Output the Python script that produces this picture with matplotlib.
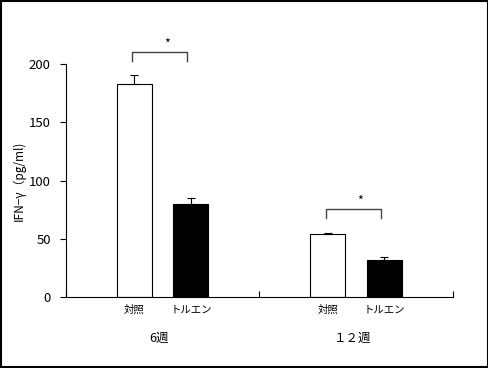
import matplotlib
matplotlib.use("Agg")
import matplotlib.pyplot as plt
from matplotlib.patches import Rectangle
import numpy as np

plt.rcParams['font.family'] = ['Noto Sans CJK JP', 'DejaVu Sans']

groups = ["6週", "１２週"]
bar_labels = ["対照", "トルエン"]
control_vals = [183, 54]
control_err = [7.7, 1.5]
toluene_vals = [80, 32]
toluene_err = [5.4, 3.0]
# significance brackets: (group index, bracket top, bracket foot)
sig_marks = [(0, 210, 203), (1, 76, 68)]

fig = plt.figure(figsize=(4.89, 3.68), dpi=100)
ax = fig.add_axes([0.135, 0.192, 0.791, 0.634])

x = np.arange(len(groups)) + 0.5
off = 0.146
w = 0.181

ax.bar(x - off, control_vals, width=w, color="white", edgecolor="black", linewidth=0.8)
ax.bar(x + off, toluene_vals, width=w, color="black", edgecolor="black", linewidth=0.8)
ax.errorbar(x - off, control_vals, yerr=[np.zeros(2), control_err], fmt="none",
            ecolor="black", elinewidth=0.8, capsize=3, capthick=0.8)
ax.errorbar(x + off, toluene_vals, yerr=[np.zeros(2), toluene_err], fmt="none",
            ecolor="black", elinewidth=0.8, capsize=3, capthick=0.8)

for gi, top, foot in sig_marks:
    xl = x[gi] - off - 0.011
    xr = x[gi] + off - 0.018
    ax.plot([xl, xl, xr, xr], [foot, top, top, foot], color="#444444", lw=1.0, clip_on=False)
    ax.text((xl + xr) / 2 + 0.035, top + 1, "*", ha="center", va="bottom", fontsize=9)

ax.set_xlim(0, 2)
ax.set_ylim(0, 200)
ax.set_yticks([0, 50, 100, 150, 200])
ax.tick_params(axis="y", direction="out", length=4, width=0.8, labelsize=9.5, pad=7)
ax.set_xticks([0, 1, 2])
ax.set_xticklabels([])
ax.tick_params(axis="x", direction="in", length=4, width=0.8)
for s in ["top", "right"]:
    ax.spines[s].set_visible(False)
ax.spines["left"].set_linewidth(0.8)
ax.spines["bottom"].set_linewidth(0.8)

for gi in range(len(groups)):
    ax.text(x[gi] - off, -6, bar_labels[0], ha="center", va="top", fontsize=7.5)
    ax.text(x[gi] + off, -6, bar_labels[1], ha="center", va="top", fontsize=7.5)
    ax.text(x[gi] - 0.02, -30, groups[gi], ha="center", va="top", fontsize=9)

ax.set_ylabel("IFN−γ（pg/ml)", fontsize=8.5)
ax.yaxis.set_label_coords(-0.105, 0.5)

fig.patches.append(Rectangle((0.002, 0.003), 0.995, 0.994, transform=fig.transFigure,
                             fill=False, edgecolor="black", linewidth=1.5))

fig.savefig("out.png", dpi=100)
